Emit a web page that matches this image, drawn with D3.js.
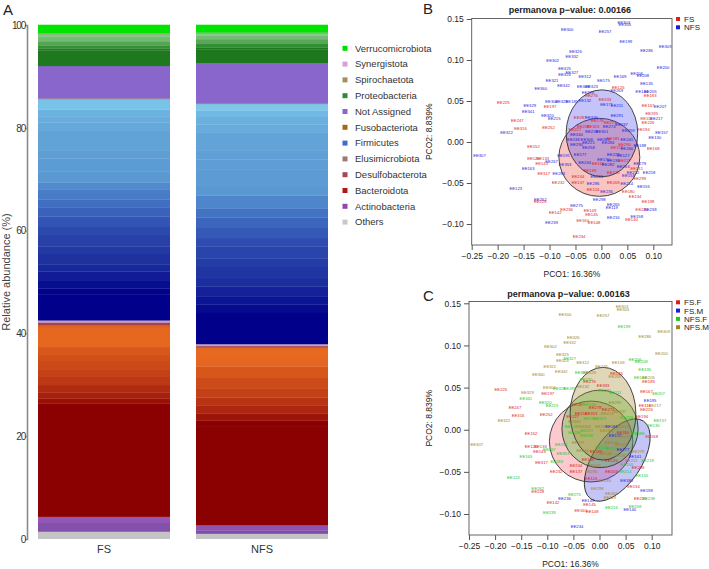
<!DOCTYPE html>
<html>
<head>
<meta charset="utf-8">
<script src="https://cdn.jsdelivr.net/npm/d3@7"></script>
<style>
  body { margin: 0; background: #fff; }
  svg { font-family: "Liberation Sans", Arial, sans-serif; }
</style>
</head>
<body>
<div id="chart"></div>
<script>
var width = 709, height = 569;

// ---- panel A data ----
var groups = ["FS", "NFS"];
var phyla = ["Others", "Actinobacteria", "Bacteroidota", "Desulfobacterota", "Elusimicrobiota",
  "Firmicutes", "Fusobacteriota", "Not Assigned", "Proteobacteria", "Spirochaetota",
  "Synergistota", "Verrucomicrobiota"];
var legendColors = ["#c8c8c8", "#9048b0", "#b01818", "#a04858", "#a07878", "#3f6ccc",
  "#a06a18", "#8866d0", "#2e8b3e", "#a09060", "#d8a0d8", "#00dd00"];

// [phylum index, relative abundance of one sub-taxon]
var fsBands = [
  [0, 1.4],
  [1, 1.7], [1, 1.2],
  [2, 22.0], [2, 1.0], [2, 1.2], [2, 1.4], [2, 1.6], [2, 1.5], [2, 1.6], [2, 1.2], [2, 1.5], [2, 3.7], [2, 0.6],
  [3, 0.5], [4, 0.4],
  [5, 5.0], [5, 1.2], [5, 1.5], [5, 1.8], [5, 1.4], [5, 2.0], [5, 1.5], [5, 2.2], [5, 1.6], [5, 2.0], [5, 1.8],
  [5, 1.5], [5, 2.0], [5, 1.3], [5, 2.2], [5, 2.5], [5, 1.5], [5, 4.0], [5, 1.5], [5, 1.2], [5, 1.3], [5, 2.0],
  [6, 0.2],
  [7, 6.3],
  [8, 3.0], [8, 0.4], [8, 0.6], [8, 0.8], [8, 0.8], [8, 0.6],
  [9, 0.1], [10, 0.05], [11, 1.65]
];
var nfsBands = [
  [0, 1.0],
  [1, 0.6], [1, 1.1],
  [2, 19.1], [2, 1.2], [2, 1.4], [2, 1.5], [2, 1.6], [2, 1.8], [2, 2.0], [2, 2.2], [2, 1.5], [2, 2.2],
  [3, 0.3], [4, 0.4],
  [5, 6.2], [5, 1.5], [5, 1.5], [5, 2.0], [5, 1.8], [5, 2.0], [5, 1.6], [5, 2.4], [5, 1.6], [5, 2.0], [5, 2.0],
  [5, 1.8], [5, 2.5], [5, 2.0], [5, 3.0], [5, 2.0], [5, 1.8], [5, 3.5], [5, 1.5], [5, 1.5], [5, 1.2], [5, 1.3],
  [6, 0.1],
  [7, 7.9],
  [8, 2.6], [8, 0.4], [8, 0.8], [8, 0.8], [8, 0.7], [8, 0.5],
  [9, 0.05], [10, 0.05], [11, 1.5]
];
var yTicksA = [0, 20, 40, 60, 80, 100];

// ---- panels B/C data (PCoA coordinates) ----
// [sample, PCO1, PCO2, group, sex]
var samples = [
  ["EE303",0.043,0.146,"NFS","M"],["EE305",0.045,0.143,"NFS","M"],["EE300",-0.066,0.137,"NFS","M"],
  ["EE257",0.007,0.135,"NFS","M"],["EE199",0.047,0.122,"NFS","F"],["EE309",0.123,0.117,"NFS","M"],
  ["EE286",0.087,0.111,"NFS","M"],["EE326",-0.050,0.110,"NFS","M"],["EE332",-0.057,0.104,"NFS","M"],
  ["EE302",-0.094,0.099,"NFS","M"],["EE200",0.119,0.091,"NFS","M"],["EE325",-0.071,0.0895,"NFS","M"],
  ["EE327",-0.057,0.085,"NFS","F"],["EE324",-0.071,0.082,"NFS","M"],["EE312",-0.032,0.080,"NFS","M"],
  ["EE169",0.036,0.080,"NFS","M"],["EE206",0.068,0.083,"NFS","F"],["EE208",0.080,0.081,"NFS","F"],
  ["EE321",-0.095,0.075,"NFS","M"],["EE175",0.004,0.0756,"NFS","M"],["EE135",0.087,0.0716,"NFS","F"],
  ["EE342",-0.073,0.0695,"NFS","M"],["EE308",-0.035,0.068,"NFS","F"],["EE323",-0.019,0.0676,"NFS","M"],
  ["EE360",-0.117,0.065,"NFS","M"],["EE125",0.0326,0.067,"FS","F"],["EE269",0.0295,0.0634,"NFS","M"],
  ["EE144",0.078,0.0615,"NFS","F"],["EE205",0.094,0.0618,"NFS","M"],["EE183",0.094,0.057,"FS","F"],
  ["EE276",-0.019,0.057,"FS","F"],["EE270",-0.026,0.060,"NFS","F"],["EE225",-0.189,0.048,"FS","F"],
  ["EE329",-0.138,0.044,"NFS","M"],["EE304",-0.096,0.0496,"NFS","M"],["EE328",-0.077,0.049,"NFS","F"],
  ["EE185",-0.057,0.049,"NFS","F"],["EE197",-0.099,0.043,"FS","F"],["EE341",-0.141,0.0366,"NFS","F"],
  ["EE333",0.007,0.052,"FS","F"],["EE132",-0.032,0.051,"NFS","M"],["EE171",0.010,0.046,"NFS","F"],
  ["EE211",0.030,0.044,"NFS","F"],["EE167",0.090,0.045,"FS","F"],["EE207",0.113,0.043,"NFS","F"],
  ["EE195",0.097,0.035,"FS","M"],["EE217",0.106,0.0285,"NFS","M"],["EE116",0.087,0.0285,"FS","F"],
  ["EE226",0.090,0.024,"FS","F"],["EE157",0.116,0.0115,"NFS","F"],["EE194",0.081,0.0155,"FS","F"],
  ["EE130",0.103,0.005,"NFS","F"],["EE168",0.100,-0.008,"FS","F"],["EE247",-0.162,0.0265,"FS","F"],
  ["EE322",-0.183,0.0115,"NFS","M"],["EE316",-0.156,0.0167,"FS","F"],["EE252",-0.102,0.0175,"FS","F"],
  ["EE320",-0.104,0.0326,"NFS","F"],["EE215",-0.091,0.029,"NFS","F"],["EE287",-0.041,0.030,"FS","F"],
  ["EE291",0.030,0.032,"NFS","M"],["EE336",-0.019,0.030,"NFS","F"],["EE278",-0.008,0.026,"FS","F"],
  ["EE273",0.017,0.024,"FS","F"],["EE237",0.039,0.0216,"NFS","M"],["EE213",-0.035,0.0195,"FS","F"],
  ["EE313",-0.016,0.0195,"FS","F"],["EE274",0.015,0.0188,"NFS","M"],["EE227",-0.051,0.0155,"FS","F"],
  ["EE233",-0.019,0.0134,"NFS","F"],["EE301",0.001,0.0134,"NFS","F"],["EE259",0.052,0.0146,"NFS","F"],
  ["EE340",-0.048,0.0094,"NFS","M"],["EE248",-0.054,0.0033,"NFS","F"],["EE306",-0.028,0.0033,"NFS","M"],
  ["EE289",0.004,0.0033,"NFS","M"],["EE181",0.023,0.004,"FS","M"],["EE241",0.049,0.0033,"NFS","M"],
  ["EE290",-0.048,-0.003,"NFS","F"],["EE221",-0.025,-0.001,"NFS","F"],["EE284",0.013,-0.001,"NFS","M"],
  ["EE280",0.045,-0.003,"FS","F"],["EE258",-0.025,-0.007,"NFS","F"],["EE172",0.030,-0.007,"FS","M"],
  ["EE266",0.049,-0.008,"NFS","M"],["EE188",0.074,-0.004,"NFS","F"],["EE152",-0.131,-0.005,"FS","F"],
  ["EE307",-0.235,-0.017,"NFS","M"],["EE120",-0.131,-0.020,"FS","F"],["EE133",-0.113,-0.020,"FS","F"],
  ["EE143",-0.115,-0.026,"FS","F"],["EE267",-0.096,-0.024,"NFS","F"],["EE191",-0.073,-0.017,"NFS","F"],
  ["EE163",-0.141,-0.032,"NFS","F"],["EE317",-0.111,-0.039,"FS","F"],["EE283",-0.082,-0.038,"NFS","F"],
  ["EE232",-0.083,-0.049,"FS","F"],["EE137",-0.045,-0.0495,"FS","F"],["EE123",-0.165,-0.057,"NFS","F"],
  ["EE177",-0.041,-0.015,"NFS","M"],["EE229",0.023,-0.015,"NFS","M"],["EE127",0.042,-0.017,"NFS","M"],
  ["EE170",0.004,-0.021,"NFS","F"],["EE136",0.023,-0.022,"NFS","F"],["EE277",0.045,-0.023,"FS","M"],
  ["EE353",-0.070,-0.028,"NFS","F"],["EE264",-0.032,-0.025,"NFS","M"],["EE166",-0.006,-0.026,"FS","F"],
  ["EE282",0.013,-0.028,"NFS","M"],["EE263",0.042,-0.030,"NFS","M"],["EE279",0.074,-0.026,"NFS","M"],
  ["EE141",0.068,-0.032,"FS","M"],["EE139",-0.022,-0.035,"FS","F"],["EE126",0.023,-0.037,"FS","F"],
  ["EE212",0.061,-0.037,"NFS","M"],["EE218",0.092,-0.037,"NFS","F"],["EE244",-0.045,-0.042,"FS","F"],
  ["EE245",-0.009,-0.042,"NFS","M"],["EE153",0.052,-0.041,"NFS","F"],["EE299",0.074,-0.045,"FS","F"],
  ["EE296",-0.016,-0.050,"NFS","M"],["EE209",0.023,-0.049,"FS","F"],["EE214",0.049,-0.050,"NFS","F"],
  ["EE155",0.081,-0.054,"NFS","F"],["EE124",-0.016,-0.058,"FS","F"],["EE235",0.010,-0.060,"NFS","M"],
  ["EE180",0.052,-0.060,"FS","M"],["EE134",0.065,-0.067,"FS","F"],["EE298",-0.004,-0.070,"NFS","M"],
  ["EE262",-0.118,-0.070,"NFS","F"],["EE228",-0.118,-0.073,"FS","F"],["EE275",-0.048,-0.077,"NFS","F"],
  ["EE198",0.090,-0.072,"FS","M"],["EE265",0.023,-0.076,"NFS","M"],["EE119",0.020,-0.080,"NFS","M"],
  ["EE236",-0.067,-0.082,"FS","M"],["EE142",-0.089,-0.086,"FS","F"],["EE149",-0.022,-0.084,"FS","M"],
  ["EE145",-0.019,-0.089,"FS","F"],["EE220",0.078,-0.082,"FS","F"],["EE238",0.094,-0.082,"NFS","F"],
  ["EE216",0.023,-0.092,"NFS","F"],["EE158",0.068,-0.091,"NFS","F"],["EE140",0.058,-0.095,"FS","M"],
  ["EE239",-0.096,-0.098,"NFS","F"],["EE160",-0.036,-0.096,"FS","F"],["EE148",-0.014,-0.0976,"FS","F"],
  ["EE234",-0.043,-0.115,"FS","M"]
];
var xTicksPco = [-0.25, -0.20, -0.15, -0.10, -0.05, 0.00, 0.05, 0.10];
var yTicksPco = [-0.10, -0.05, 0.00, 0.05, 0.10, 0.15];

// group ellipses: [group, cx, cy, rx, ry, angle]
var ellipsesB = [
  ["FS", -0.004, -0.0187, 0.078, 0.0476, 0],
  ["NFS", 0.001, 0.0106, 0.069, 0.053, 0]
];
var ellipsesC = [
  ["FS.F", -0.016, -0.014, 0.080, 0.048, 0],
  ["FS.M", 0.034, -0.036, 0.090, 0.0285, -56],
  ["NFS.F", 0.001, 0.001, 0.073, 0.046, 0],
  ["NFS.M", 0.0067, 0.019, 0.063, 0.055, 0]
];
var groupsB = ["FS", "NFS"];
var groupsC = ["FS.F", "FS.M", "NFS.F", "NFS.M"];
var pvalB = "0.00166", pvalC = "0.00163";

var svg = d3.select("#chart").append("svg")
  .attr("width", width)
  .attr("height", height);

// ================= panel A =================
var yA = d3.scaleLinear().domain([0, 100]).range([539, 25]);
var xA = d3.scaleBand().domain(groups).range([38, 328]).paddingInner(0.1646);

var bacRamp = d3.scaleLinear()
  .domain([0, 0.58, 0.62, 0.72, 0.85, 0.92, 0.985, 1])
  .range(["#8b0000", "#8b0000", "#a41c0c", "#c03c16", "#d4541a", "#e66820", "#e86a20", "#d85a1e"]);
var firRamp = d3.scaleLinear()
  .domain([0, 0.12, 0.25, 0.42, 0.55, 0.64, 0.85, 0.95, 1])
  .range(["#00008b", "#00008b", "#1a2c9c", "#2e4cb0", "#4474c4", "#5a98d2", "#62a4d8", "#6cb4e2", "#86d0ee"]);
var proRamp = d3.scaleLinear()
  .domain([0, 0.5, 0.62, 0.8, 1])
  .range(["#1e781e", "#1e781e", "#3a963a", "#6cb46c", "#8ccc8c"]);
var actRamp = d3.scaleLinear().domain([0, 1]).range(["#7a4ca4", "#9858bc"]);
var flat = ["#c4c4c4", null, null, "#a04450", "#c4a0c4", null, "#9a8a70", "#8866cc", null, "#9a9060", "#d4a0dc", "#00e400"];

function bandColor(p, frac) {
  if (p == 1) return actRamp(frac);
  if (p == 2) return bacRamp(frac);
  if (p == 5) return firRamp(frac);
  if (p == 8) return proRamp(frac);
  return flat[p];
}

function drawBar(bands, g) {
  // totals per phylum
  var tot = {};
  bands.forEach(function(b) { tot[b[0]] = (tot[b[0]] || 0) + b[1]; });
  var acc = 0, within = {};
  var rows = bands.map(function(b) {
    var w = within[b[0]] || 0;
    var r = {p: b[0], y0: acc, y1: acc + b[1], frac: (w + b[1] / 2) / tot[b[0]]};
    within[b[0]] = w + b[1];
    acc += b[1];
    return r;
  });
  svg.append("g").selectAll("rect")
    .data(rows)
    .enter().append("rect")
    .attr("x", xA(g))
    .attr("width", xA.bandwidth())
    .attr("y", function(d) { return yA(d.y1) - 0.3; })
    .attr("height", function(d) { return Math.max(0.3, yA(d.y0) - yA(d.y1) + 0.3); })
    .style("fill", function(d) { return bandColor(d.p, d.frac); });
}
drawBar(fsBands, "FS");
drawBar(nfsBands, "NFS");

var axA = svg.append("g")
  .attr("transform", "translate(27,0)")
  .call(d3.axisLeft(yA).tickValues(yTicksA).tickSize(2).tickPadding(0));
axA.select(".domain").attr("stroke", "#8a8a8a").attr("stroke-width", 1.6);
axA.selectAll(".tick line").attr("stroke", "#8a8a8a");
axA.selectAll(".tick text").style("font-size", "10px").style("letter-spacing", "-1.2px").attr("fill", "#333")
  .attr("font-family", "Liberation Sans, Arial, sans-serif");

groups.forEach(function(g) {
  svg.append("text").attr("x", xA(g) + xA.bandwidth() / 2).attr("y", 553)
    .attr("text-anchor", "middle").style("font-size", "11px").attr("fill", "#333").text(g);
});
svg.append("text")
  .attr("text-anchor", "middle")
  .attr("transform", "translate(10,272) rotate(-90)")
  .style("font-size", "11px").attr("fill", "#444")
  .text("Relative abundance (%)");
svg.append("text").attr("x", 3).attr("y", 15).style("font-size", "15px").attr("fill", "#222").text("A");

// legend A (top item = last phylum)
var legA = svg.append("g");
phyla.slice().reverse().forEach(function(name, i) {
  var idx = phyla.length - 1 - i;
  var yy = 48.3 + i * 15.8;
  legA.append("rect").attr("x", 342.5).attr("y", yy - 2.5).attr("width", 5).attr("height", 5)
    .style("fill", legendColors[idx]);
  legA.append("text").attr("x", 355).attr("y", yy + 3.3).style("font-size", "9.5px")
    .attr("fill", "#333").text(name);
});

// ================= panels B / C =================
var colB = {"FS": "#dd1c1c", "NFS": "#1c1cdd"};
var colC = {"FS.F": "#dd1c1c", "FS.M": "#1c1cdd", "NFS.F": "#1ec81e", "NFS.M": "#a08428"};
var fillB = {"FS": "rgba(240,60,50,0.30)", "NFS": "rgba(60,60,240,0.30)"};
var fillC = {"FS.F": "rgba(240,60,80,0.28)", "FS.M": "rgba(60,60,230,0.30)",
  "NFS.F": "rgba(60,190,40,0.33)", "NFS.M": "rgba(160,130,40,0.33)"};

function pcoPanel(opt) {
  var x = d3.scaleLinear().domain([-0.25, 0.10]).range([opt.x0, opt.x1]);
  var y = d3.scaleLinear().domain([-0.10, 0.15]).range([opt.yb, opt.yt]);
  var g = svg.append("g");

  // ellipses
  g.selectAll("ellipse")
    .data(opt.ellipses)
    .enter().append("ellipse")
    .attr("cx", 0).attr("cy", 0)
    .attr("rx", function(d) { return x(d[3]) - x(0); })
    .attr("ry", function(d) { return y(0) - y(d[4]); })
    .attr("transform", function(d) { return "translate(" + x(d[1]) + "," + y(d[2]) + ") rotate(" + d[5] + ")"; })
    .style("fill", function(d) { return opt.fill[d[0]]; })
    .style("stroke", "#333").style("stroke-width", 0.9);

  // sample labels
  g.selectAll("text.pt")
    .data(samples)
    .enter().append("text")
    .attr("class", "pt")
    .attr("x", function(d) { return x(d[1]); })
    .attr("y", function(d) { return y(d[2]) + 1.5; })
    .attr("text-anchor", "middle")
    .style("font-size", "4.2px")
    .style("fill", function(d) { return opt.col[opt.key(d)]; })
    .text(function(d) { return d[0]; });

  // box
  g.append("rect").attr("x", opt.x0).attr("y", opt.top)
    .attr("width", opt.right - opt.x0).attr("height", opt.bottom - opt.top)
    .style("fill", "none").style("stroke", "#555").style("stroke-width", 0.9);

  var fmt = function(d) { return d3.format(".2f")(d); };
  var ax = g.append("g").attr("transform", "translate(0," + opt.bottom + ")")
    .call(d3.axisBottom(x).tickValues(xTicksPco).tickSize(5).tickPadding(3).tickFormat(fmt));
  var ay = g.append("g").attr("transform", "translate(" + opt.x0 + ",0)")
    .call(d3.axisLeft(y).tickValues(yTicksPco).tickSize(5).tickPadding(3).tickFormat(fmt));
  [ax, ay].forEach(function(a) {
    a.select(".domain").remove();
    a.selectAll(".tick line").attr("stroke", "#555");
    a.selectAll(".tick text").style("font-size", "8.5px").attr("fill", "#222")
      .attr("font-family", "Liberation Sans, Arial, sans-serif");
  });

  var cx = (opt.x0 + opt.right) / 2;
  g.append("text").attr("x", cx - 2).attr("y", opt.titleY).attr("text-anchor", "middle")
    .style("font-size", "9px").style("font-weight", "bold").attr("fill", "#222")
    .text("permanova p\u2212value: " + opt.pval);
  g.append("text").attr("x", cx).attr("y", opt.bottom + 32).attr("text-anchor", "middle")
    .style("font-size", "8.5px").attr("fill", "#222").text("PCO1: 16.36%");
  g.append("text").attr("text-anchor", "middle")
    .attr("transform", "translate(432," + ((opt.top + opt.bottom) / 2) + ") rotate(-90)")
    .style("font-size", "8.5px").attr("fill", "#222").text("PCO2: 8.839%");
  g.append("text").attr("x", 423).attr("y", opt.letterY).style("font-size", "15px")
    .attr("fill", "#222").text(opt.letter);

  opt.groups.forEach(function(name, i) {
    var yy = opt.legY + i * 8.3;
    g.append("rect").attr("x", 676).attr("y", yy - 2).attr("width", 4).attr("height", 4)
      .style("fill", opt.col[name]);
    g.append("text").attr("x", 684).attr("y", yy + 3).style("font-size", "8px")
      .attr("fill", "#222").text(name);
  });
}

pcoPanel({
  x0: 471.7, x1: 653.3, right: 672, yb: 224, yt: 19, top: 18.5, bottom: 245,
  titleY: 12.5, letter: "B", letterY: 14, legY: 19, pval: pvalB,
  ellipses: ellipsesB, fill: fillB, col: colB, groups: groupsB,
  key: function(d) { return d[3]; }
});
pcoPanel({
  x0: 469, x1: 651.7, right: 672, yb: 514, yt: 303.3, top: 301.5, bottom: 535,
  titleY: 296.5, letter: "C", letterY: 301, legY: 302.3, pval: pvalC,
  ellipses: ellipsesC, fill: fillC, col: colC, groups: groupsC,
  key: function(d) { return d[3] + "." + d[4]; }
});
</script>
</body>
</html>
